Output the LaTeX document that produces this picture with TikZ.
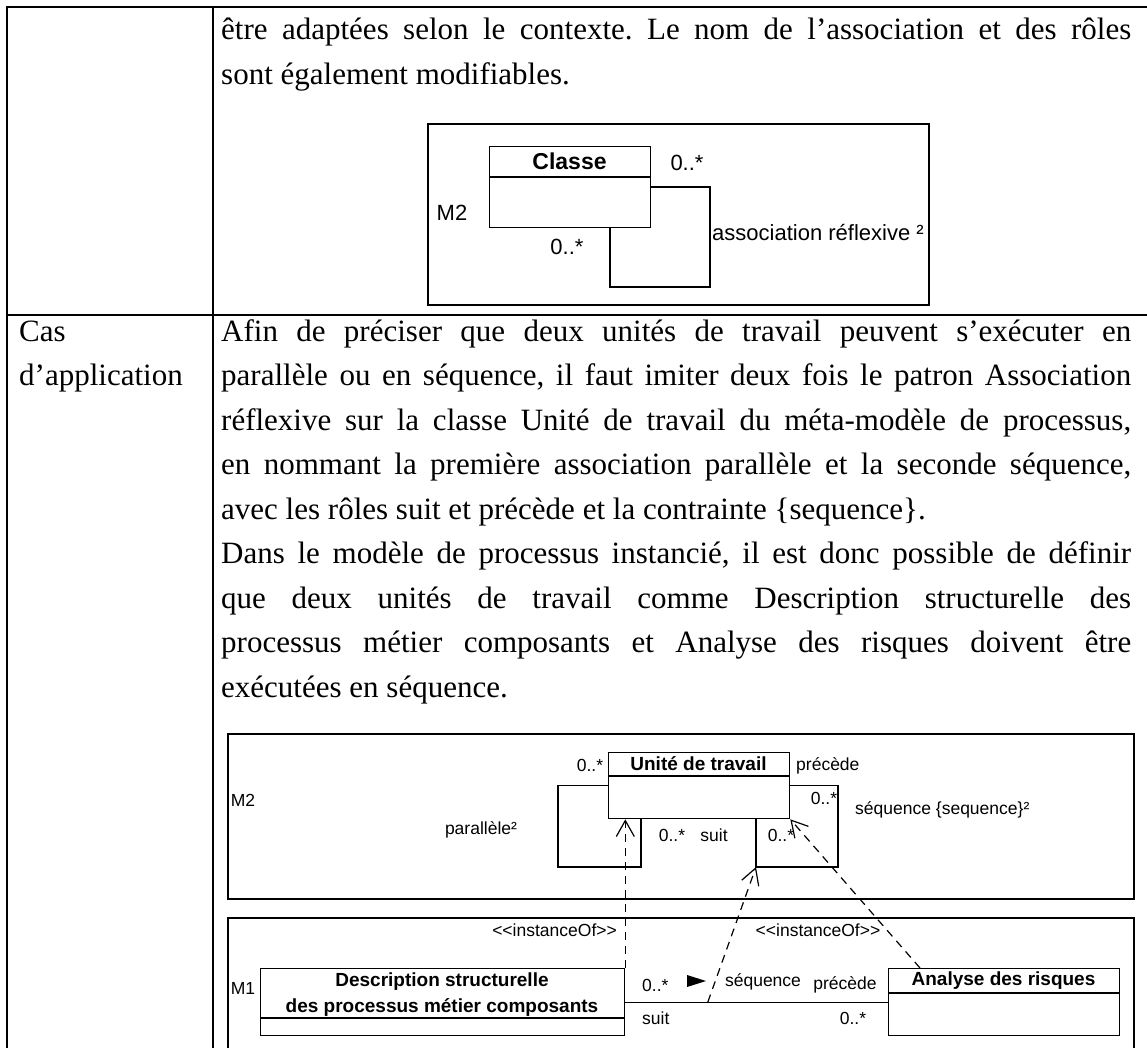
\documentclass[tikz,border=0pt]{standalone}
\usepackage{fontspec}
\setmainfont{Liberation Serif}
\newfontfamily\arialf{Liberation Sans}
\usetikzlibrary{arrows.meta,calc}
\newcommand\jline[1]{\makebox[910pt][s]{#1}}
\frenchspacing
\begin{document}
\begin{tikzpicture}[x=1pt,y=-1pt,
  tableline/.style={line width=2.2pt},
  frameline/.style={line width=1.5pt},
  umlline/.style={line width=1.3pt},
  umlbox/.style={draw, line width=1.3pt, inner sep=0pt, anchor=north west},
  body/.style={inner sep=0pt, anchor=base west, font=\fontsize{31}{31}\selectfont},
  lab/.style={inner sep=0pt, font=\arialf\fontsize{17.5}{20}\selectfont},
  labB/.style={inner sep=0pt, font=\arialf\bfseries\fontsize{19}{22}\selectfont},
  labA/.style={inner sep=0pt, font=\arialf\fontsize{22}{26}\selectfont},
  labAB/.style={inner sep=0pt, font=\arialf\bfseries\fontsize{23}{26}\selectfont},
  inst/.style={line width=1.2pt, dash pattern=on 8pt off 6pt, -{Straight Barb[length=16pt,width=18pt,line width=1.2pt]}}
]
\fill[white] (0,0) rectangle (1147,1048);
\useasboundingbox (0,0) rectangle (1147,1048);

% table
\draw[tableline] (1150,7) -- (7,7) -- (7,1052);
\draw[tableline] (213,7) -- (213,1052);
\draw[tableline] (7,315) -- (1150,315);

% row 1 text
\node[body] (r1a) at (221,40) {\jline{être adaptées selon le contexte. Le nom de l’association et des rôles}};
\node[body] (r1b) at (221,84.5) {sont également modifiables.};

% diagram 1
\draw[frameline] (428,124) rectangle (929,305);
\node[umlbox, minimum width=161pt, minimum height=81pt] (classe) at (489,146) {};
\draw[umlline] ($(classe.north west)+(0,31)$) -- ($(classe.north east)+(0,31)$);
\node[labAB] (classeT) at (569.5,161.5) {Classe};
\draw[umlline] (classe.east) -| (710,287) -| (610,0 |- classe.south);
\node[labA] (m2a) at (452,213) {M2};
\node[labA] (c1a) at (687,163) {0..*};
\node[labA] (c1b) at (567,247) {0..*};
\node[labA, anchor=west] (assocR) at (712,233) {association réflexive ²};

% row 2 text
\node[body] (cas1) at (19,341) {Cas};
\node[body] (cas2) at (19,385.5) {d’application};
\node[body] (p1) at (221,341) {\jline{Afin de préciser que deux unités de travail peuvent s’exécuter en}};
\node[body] (p2) at (221,385.5) {\jline{parallèle ou en séquence, il faut imiter deux fois le patron Association}};
\node[body] (p3) at (221,430) {\jline{réflexive sur la classe Unité de travail du méta-modèle de processus,}};
\node[body] (p4) at (221,474.5) {\jline{en nommant la première association parallèle et la seconde séquence,}};
\node[body] (p5) at (221,519) {avec les rôles suit et précède et la contrainte \{sequence\}.};
\node[body] (p6) at (221,563.5) {\jline{Dans le modèle de processus instancié, il est donc possible de définir}};
\node[body] (p7) at (221,608) {\jline{que deux unités de travail comme Description structurelle des}};
\node[body] (p8) at (221,652.5) {\jline{processus métier composants et Analyse des risques doivent être}};
\node[body] (p9) at (221,697) {exécutées en séquence.};

% diagram 2 frames
\draw[frameline] (228,734) rectangle (1134,899);
\draw[frameline] (228,1052) -- (228,918) -- (1134,918) -- (1134,1052);

% M2 level
\node[umlbox, minimum width=181pt, minimum height=66pt] (unite) at (608,752) {};
\draw[umlline] ($(unite.north west)+(0,24)$) -- ($(unite.north east)+(0,24)$);
\node[labB] (uniteT) at (698.5,764) {Unité de travail};
\draw[umlline] (unite.west) -| (558,867) -| (641,0 |- unite.south);
\draw[umlline] (unite.east) -| (838,867) -| (756,0 |- unite.south);
\coordinate (seqc) at (756,867);
\node[lab] (m2b) at (243,800) {M2};
\node[lab] (u1) at (590,765) {0..*};
\node[lab, anchor=west] (u2) at (796,766) {précède};
\node[lab] (u3) at (824,798) {0..*};
\node[lab, anchor=west] (u4) at (855,810) {séquence \{sequence\}²};
\node[lab] (u5) at (481,830) {parallèle²};
\node[lab] (u6) at (672,835) {0..*};
\node[lab] (u7) at (714,835) {suit};
\node[lab] (u8) at (781,835) {0..*};

% M1 level
\node[lab] (m1) at (243,988) {M1};
\node[umlbox, minimum width=364pt, minimum height=67pt] (desc) at (260,968) {};
\draw[umlline] ($(desc.north west)+(0,50)$) -- ($(desc.north east)+(0,50)$);
\node[labB] (descT1) at (442,982) {Description structurelle};
\node[labB] (descT2) at (442,1007) {des processus métier composants};
\node[umlbox, minimum width=231pt, minimum height=67pt] (analyse) at (888,968) {};
\draw[umlline] ($(analyse.north west)+(0,25)$) -- ($(analyse.north east)+(0,25)$);
\node[labB] (anaT) at (1003.5,981) {Analyse des risques};
\draw[umlline] (desc.east) -- (analyse.west);
\coordinate (assocp) at ($(desc.east)!0.314!(analyse.west)$);
\node[lab, anchor=west] (a1) at (642,985) {0..*};
\node[lab, anchor=west] (a2) at (642,1018) {suit};
\fill (687,975) -- (706,981) -- (687,987) -- cycle;
\node[lab] (a3) at (763,982) {séquence};
\node[lab] (a4) at (845,985) {précède};
\node[lab] (a5) at (853,1018) {0..*};

% instanceOf dependencies
\draw[inst] (desc.north east) -- (desc.north east |- unite.south);
\draw[inst] (assocp) -- (seqc);
\draw[inst] (920,0 |- analyse.north) -- (unite.south east);
\node[lab, anchor=east] (io1) at (617,930) {<<instanceOf>>};
\node[lab] (io2) at (818,930) {<<instanceOf>>};
\end{tikzpicture}
\end{document}
